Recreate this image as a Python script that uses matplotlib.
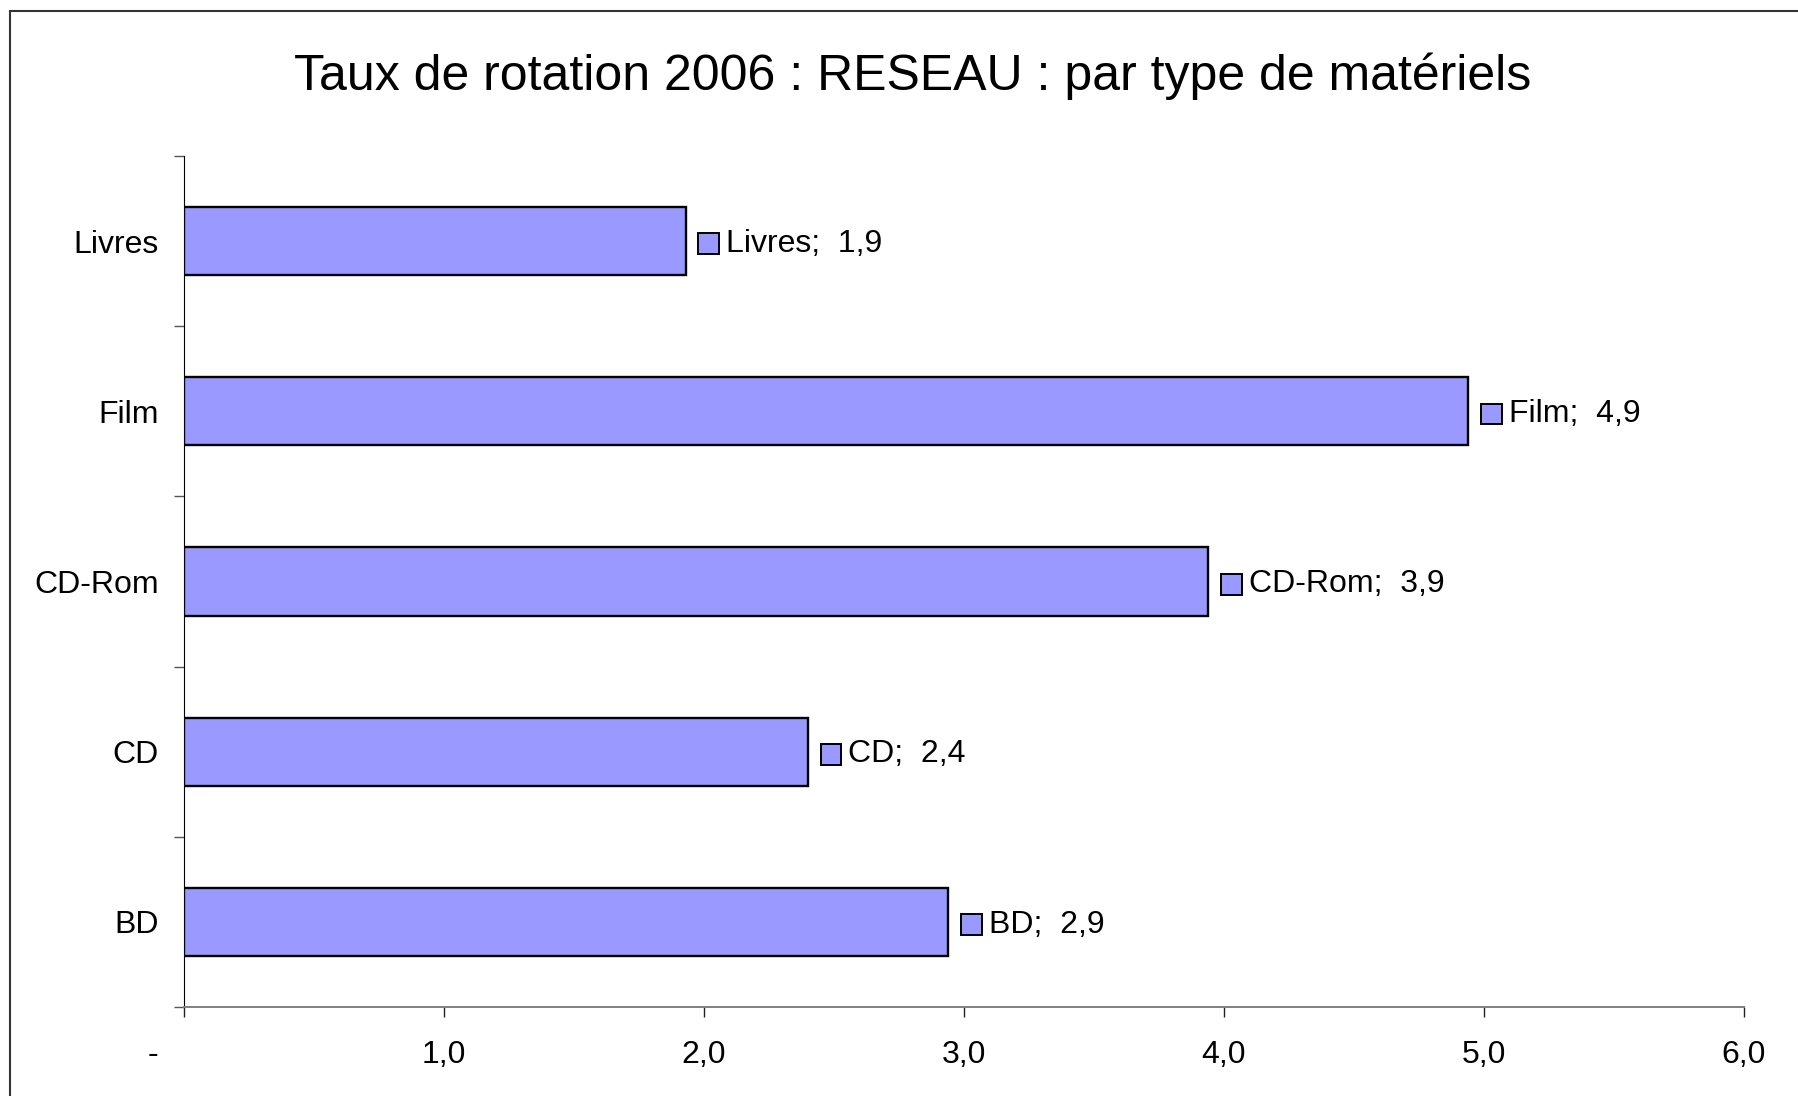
import matplotlib
matplotlib.use("Agg")
from matplotlib import pyplot as plt
from matplotlib.patches import Rectangle
from matplotlib.transforms import ScaledTranslation
from matplotlib.offsetbox import AnnotationBbox, DrawingArea, TextArea, HPacker

plt.rcParams['font.family'] = ['Liberation Sans', 'DejaVu Sans']

# bottom to top
categories = ["BD", "CD", "CD-Rom", "Film", "Livres"]
values = [2.94, 2.40, 3.94, 4.94, 1.93]
xticks = [0, 1, 2, 3, 4, 5, 6]
xticklabels = ["-", "1,0", "2,0", "3,0", "4,0", "5,0", "6,0"]
title = "Taux de rotation 2006 : RESEAU : par type de matériels"

bar_color = "#9999FF"
W, H = 1798, 1096
fs = 23

fig = plt.figure(figsize=(W / 100, H / 100), dpi=100)
ax = fig.add_axes([184 / W, 1 - 1007 / H, (1744 - 184) / W, (1007 - 156) / H])

ypos = list(range(len(categories)))
ax.barh(ypos, values, height=0.4, color=bar_color, edgecolor="black", linewidth=1.7, zorder=3)

ax.set_xlim(0, 6)
ax.set_ylim(-0.5, len(categories) - 0.5)

ax.set_xticks(xticks)
ax.set_xticklabels(xticklabels, fontsize=fs)
ax.tick_params(axis='x', direction='out', length=7, width=1, color='#222222', pad=17)
# the zero label sits left of its tick
zero_lbl = ax.get_xticklabels()[0]
zero_lbl.set_transform(zero_lbl.get_transform() + ScaledTranslation(-31 / 100, 0, fig.dpi_scale_trans))

ax.set_yticks(ypos)
ax.set_yticklabels(categories, fontsize=fs)
ax.tick_params(axis='y', which='major', length=0, pad=18)
ax.set_yticks([y - 0.5 for y in ypos] + [len(categories) - 0.5], minor=True)
ax.tick_params(axis='y', which='minor', direction='out', length=7, width=1, color='#555555')

for side in ("top", "right"):
    ax.spines[side].set_visible(False)
ax.spines["left"].set_color("black")
ax.spines["left"].set_linewidth(0.8)
ax.spines["bottom"].set_color("#808080")
ax.spines["bottom"].set_linewidth(1.4)

# data labels with a small legend key in front
for y, v, name in zip(ypos, values, categories):
    key = DrawingArea(15, 15, 0, 0)
    key.add_artist(Rectangle((0, 0), 15, 15, facecolor=bar_color, edgecolor="black", linewidth=1.4))
    txt = TextArea("{};  {}".format(name, ("%.1f" % v).replace(".", ",")),
                   textprops=dict(fontsize=fs, color="black"))
    box = HPacker(children=[key, txt], align="center", pad=0, sep=5)
    ab = AnnotationBbox(box, (v, y), xybox=(9, -2), xycoords="data", boxcoords="offset points",
                        box_alignment=(0, 0.5), frameon=False, pad=0)
    ax.add_artist(ab)

fig.text(913 / W, 1 - 76 / H, title, fontsize=36, ha="center", va="center")

# outer chart frame (runs past the right and bottom edges)
fig.add_artist(Rectangle((10 / W, -0.1), 1.2, 1 - 10.5 / H + 0.1, transform=fig.transFigure,
                         fill=False, edgecolor="#333333", linewidth=1.5))

fig.savefig("out.png", dpi=100)
